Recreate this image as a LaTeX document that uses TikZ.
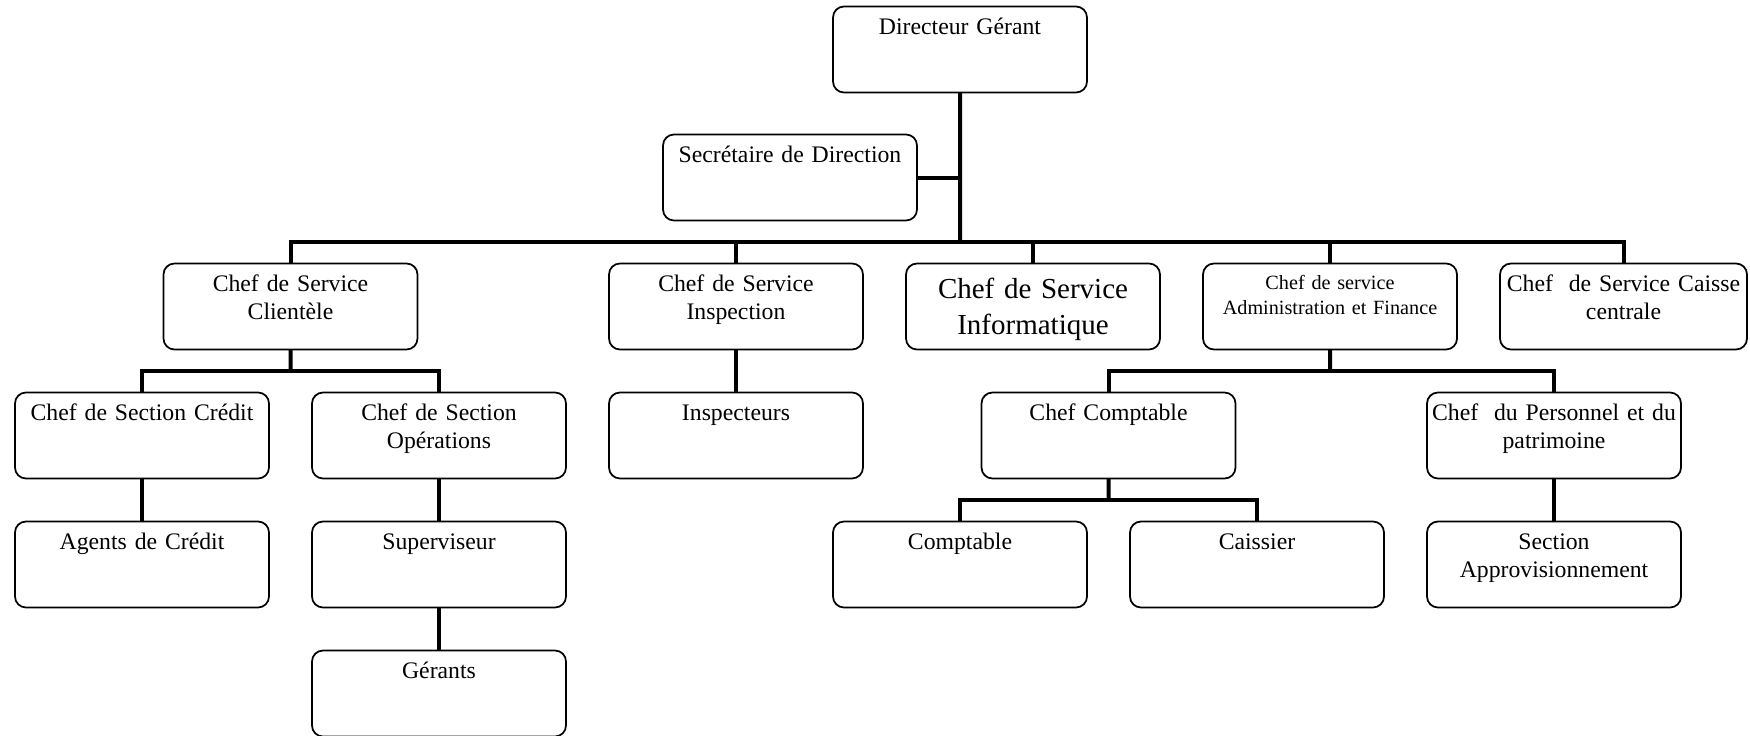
\documentclass[tikz,border=0pt]{standalone}
\usepackage{fontspec}
\setmainfont{Liberation Serif}
\usepackage{tikz}
\usetikzlibrary{positioning,calc}

\begin{document}
\begin{tikzpicture}
      [ node distance=0.86cm,
        box/.style={draw, rounded corners=0.22cm, line width=0.035cm,
                    inner sep=0pt, outer sep=0pt, text width=5.08cm, align=center,
                    text height=0.56cm, text depth=1.16cm,
                    font=\fontsize{13.5}{16}\selectfont},
        bigbox/.style={box, text height=0.7cm, text depth=1.02cm,
                    font=\fontsize{16.5}{20.5}\selectfont},
        smallbox/.style={box, text height=0.52cm, text depth=1.2cm,
                    font=\fontsize{11.5}{14}\selectfont},
        link/.style={line width=0.08cm, line join=miter}
      ]
      \useasboundingbox (0,0) rectangle (35,-14.72);

      \node[box]      (dg)     at (19.2,-0.99)                           {Directeur Gérant};
      \node[box]      (sec)    [below left=0.84cm and 0.86cm of dg.south] {Secrétaire de Direction};

      \node[box]      (cred)   at (2.84,-8.71)                 {Chef de Section Crédit};
      \node[box]      (oper)   [right=of cred]                 {Chef de Section\\Opérations};
      \node[box]      (inspr)  [right=of oper]                 {Inspecteurs};
      \node[box]      (insp)   [above=of inspr]                {Chef de Service\\Inspection};
      \node[bigbox]   (info)   [right=of insp]                 {Chef de Service\\Informatique};
      \node[smallbox] (admin)  [right=of info]                 {Chef de service\\Administration et Finance};
      \node[box, text width=4.94cm] (caisse) [right=of admin]  {Chef~ de Service Caisse\\centrale};

      \coordinate (m1) at ($(cred.north east)!0.5!(oper.north west)$);
      \node[box]      (cli)    [above=of m1]                   {Chef de Service\\Clientèle};

      \node[box]      (agents) [below=of cred]                 {Agents de Crédit};
      \node[box]      (sup)    [below=of oper]                 {Superviseur};
      \node[box]      (ger)    [below=of sup]                  {Gérants};

      \node[box]      (comp)   at (dg |- agents)               {Comptable};
      \node[box]      (cais)   [right=of comp]                 {Caissier};
      \node[box]      (appro)  [right=of cais]                 {Section\\Approvisionnement};
      \node[box]      (pers)   [above=of appro]                {Chef~ du Personnel et du\\patrimoine};
      \coordinate (m2) at ($(comp.north east)!0.5!(cais.north west)$);
      \node[box]      (cc)     [above=of m2]                   {Chef Comptable};

      % top level bus
      \coordinate (top) at ($(dg.south |- sec.south)!0.5!(dg.south |- insp.north)$);
      \draw[link] (dg.south) -- (top);
      \draw[link] (sec.east) -- (sec.east -| dg.south);
      \draw[link] (cli.north) |- (top) -| (caisse.north);
      \foreach \n in {insp,info,admin}
        \draw[link] (\n.north) -- (\n.north |- top);

      % sub buses
      \coordinate (j1) at ($(cli.south)!0.5!(cli.south |- cred.north)$);
      \draw[link] (cli.south) -- (j1);
      \draw[link] (cred.north) |- (j1) -| (oper.north);

      \coordinate (j2) at ($(admin.south)!0.5!(admin.south |- cc.north)$);
      \draw[link] (admin.south) -- (j2);
      \draw[link] (cc.north) |- (j2) -| (pers.north);

      \coordinate (j3) at ($(cc.south)!0.5!(cc.south |- comp.north)$);
      \draw[link] (cc.south) -- (j3);
      \draw[link] (comp.north) |- (j3) -| (cais.north);

      \path[link] (cred)  edge (agents)
                  (oper)  edge (sup)
                  (sup)   edge (ger)
                  (insp)  edge (inspr)
                  (pers)  edge (appro);
\end{tikzpicture}
\end{document}
